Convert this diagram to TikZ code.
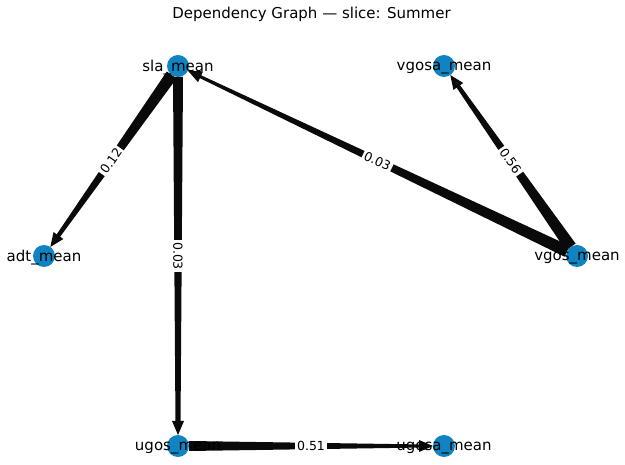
\documentclass[tikz,border=0pt]{standalone}
\usepackage{fontspec}
\setmainfont{DejaVu Sans}
\usetikzlibrary{calc}
\definecolor{nodeblue}{RGB}{16,132,194}
\definecolor{edgecol}{RGB}{10,10,10}
\newcommand{\taperedge}[4]{%
  \coordinate (tA) at ($(#1.center)!11pt!(#2.center)$);
  \coordinate (tB) at ($(#2.center)!20pt!(#1.center)$);
  \coordinate (tT) at ($(#2.center)!11pt!(#1.center)$);
  \coordinate (tC) at ($(#2.center)!25pt!(#1.center)$);
  \fill[edgecol] ($(tA)!#3!90:(#2.center)$) -- ($(tB)!#4!90:(#2.center)$) -- ($(tB)!#4!-90:(#2.center)$) -- ($(tA)!#3!-90:(#2.center)$) -- cycle;
  \fill[edgecol] (tT) -- ($(tC)!6pt!90:(#2.center)$) -- ($(tC)!6pt!-90:(#2.center)$) -- cycle;
}
\begin{document}
\begin{tikzpicture}[x=1pt,y=-1pt,
  dot/.style={circle,fill=nodeblue,minimum size=22pt,inner sep=0pt},
  nlabel/.style={font=\fontsize{15}{18}\selectfont,text=black,inner sep=0pt,yshift=-2pt},
  elabel/.style={font=\fontsize{12.5}{15}\selectfont,fill=white,rounded corners=2pt,inner sep=2pt,midway}]
\useasboundingbox (0,0) rectangle (625,465);
\node[nlabel] (title) at (311.5,12) {Dependency Graph — slice: Summer};
\node[dot] (sla) at (178,66) {};
\node[dot] (vgosa) at (444,66) {};
\node[dot] (adt) at (44,256) {};
\node[dot] (vgos) at (577,256) {};
\node[dot] (ugos) at (178,446) {};
\node[dot] (ugosa) at (444,446) {};
\taperedge{sla}{adt}{6pt}{2pt}
\taperedge{sla}{ugos}{5pt}{2.5pt}
\taperedge{vgos}{sla}{6pt}{1.5pt}
\taperedge{vgos}{vgosa}{6pt}{2pt}
\taperedge{ugos}{ugosa}{5pt}{1.5pt}
\node[nlabel] (lsla) at (sla) {sla\_mean};
\node[nlabel] (lvgosa) at (vgosa) {vgosa\_mean};
\node[nlabel] (ladt) at (adt) {adt\_mean};
\node[nlabel] (lvgos) at (vgos) {vgos\_mean};
\node[nlabel] (lugos) at (ugos) {ugos\_mean};
\node[nlabel] (lugosa) at (ugosa) {ugosa\_mean};
\path (sla.center) -- (adt.center) node[elabel,rotate=54.8] (e1) {0.12};
\path (sla.center) -- (ugos.center) node[elabel,rotate=-90] (e2) {0.03};
\path (vgos.center) -- (sla.center) node[elabel,rotate=-25.5] (e3) {0.03};
\path (vgos.center) -- (vgosa.center) node[elabel,rotate=-55] (e4) {0.56};
\path (ugos.center) -- (ugosa.center) node[elabel] (e5) {0.51};
\end{tikzpicture}
\end{document}
